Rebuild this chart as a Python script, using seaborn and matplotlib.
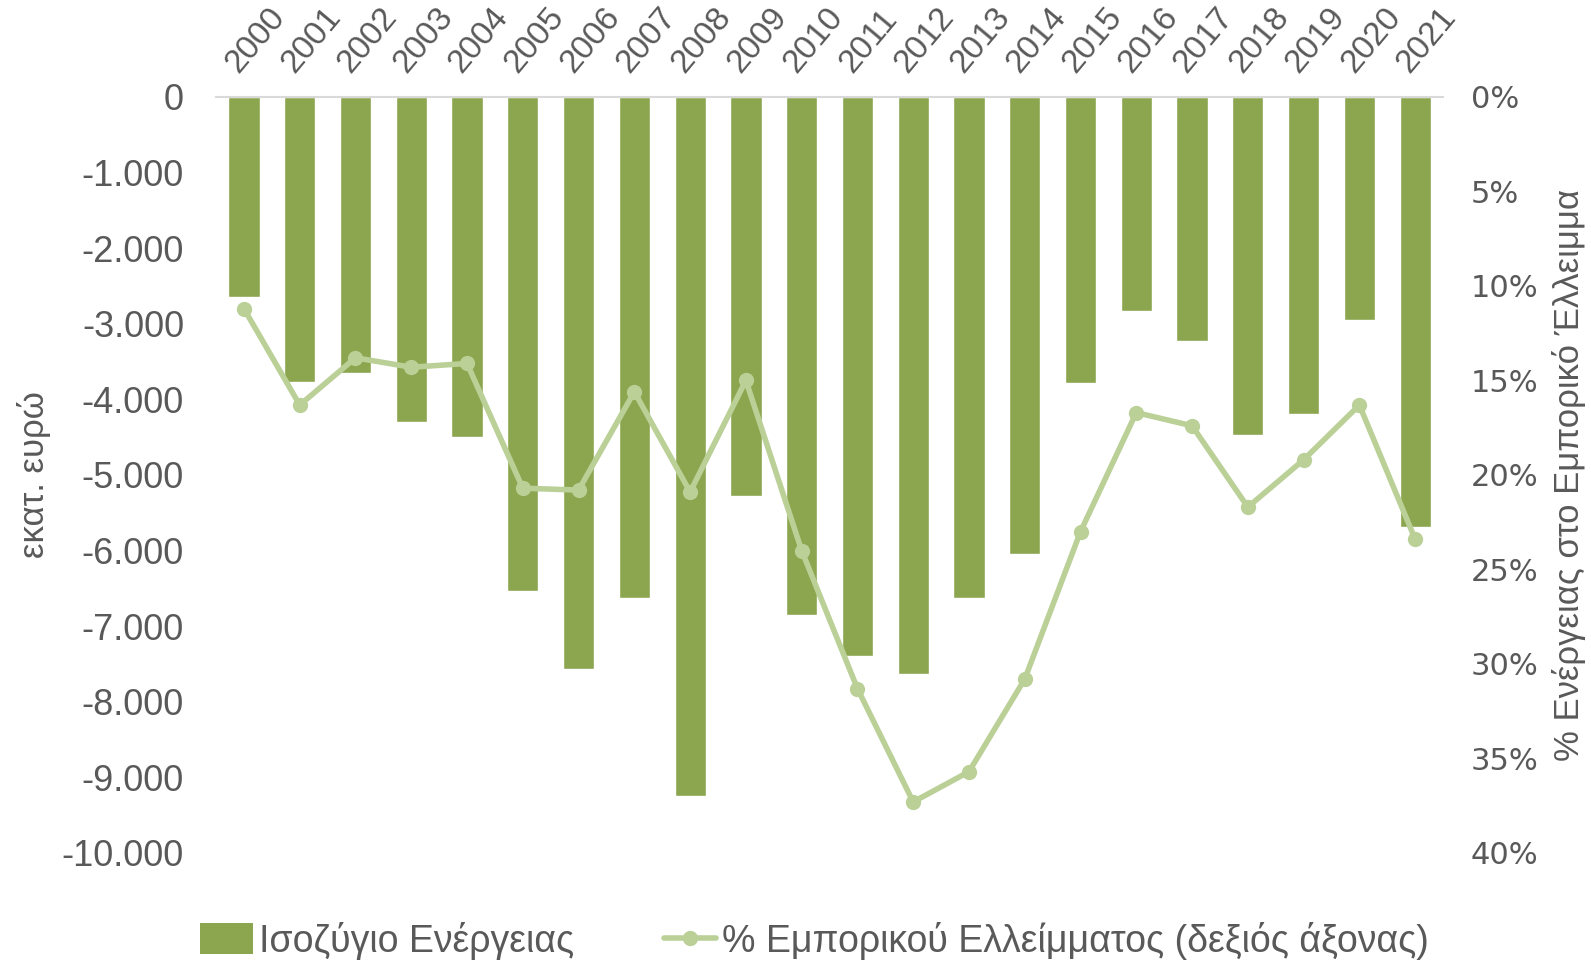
import numpy as np
import pandas as pd
import matplotlib
matplotlib.use("Agg")
import matplotlib.pyplot as plt
import seaborn as sns
from matplotlib.ticker import FuncFormatter, FixedLocator
from matplotlib.patches import Patch
from matplotlib.lines import Line2D

# data
years = [str(y) for y in range(2000, 2022)]
energy_balance = [-2650, -3765, -3645, -4295, -4495, -6535, -7570, -6630, -9240, -5280,
                  -6850, -7395, -7630, -6630, -6040, -3790, -2825, -3230, -4465, -4200,
                  -2955, -5690]
energy_share = [11.2, 16.3, 13.8, 14.3, 14.1, 20.7, 20.8, 15.6, 20.9, 15.0,
                24.0, 31.3, 37.3, 35.7, 30.8, 23.0, 16.7, 17.4, 21.7, 19.2,
                16.3, 23.4]

bar_label = "Ισοζύγιο Ενέργειας"
line_label = "% Εμπορικού Ελλείμματος (δεξιός άξονας)"
left_title = "εκατ. ευρώ"
right_title = "% Ενέργειας στο Εμπορικό Έλλειμμα"

bar_color = "#8ba64f"
line_color = "#bad097"
text_color = "#595959"

sns.set_theme(style="white")
plt.rcParams["font.family"] = ["Liberation Sans", "DejaVu Sans"]

df = pd.DataFrame({"year": years, "balance": energy_balance, "share": energy_share})
df["pos"] = np.arange(len(df))

fig = plt.figure(figsize=(15.91, 9.6), dpi=100)
ax = fig.add_axes([0.1358, 0.1115, 0.7712, 0.7875])

sns.barplot(data=df, x="year", y="balance", color=bar_color, width=0.56,
            saturation=1, ax=ax)
ax.set_ylim(-10000, 0)
ax.set_xlim(-0.5, len(df) - 0.5)
ax.yaxis.set_major_locator(FixedLocator(np.arange(-10000, 1, 1000)))
ax.yaxis.set_major_formatter(FuncFormatter(lambda v, p: f"{v:,.0f}".replace(",", ".")))
ax.tick_params(axis="y", labelsize=26, colors=text_color, length=0, pad=23)
ax.set_ylabel(left_title, fontsize=25, color=text_color, labelpad=8)
ax.set_xlabel("")

# year labels on top, slanted
ax.xaxis.tick_top()
ax.tick_params(axis="x", length=0, pad=13, labelsize=24, colors=text_color)
plt.setp(ax.get_xticklabels(), rotation=50, ha="left", va="bottom",
         rotation_mode="anchor")

for s in ["left", "right", "bottom"]:
    ax.spines[s].set_visible(False)
ax.spines["top"].set_color("#d9d9d9")
ax.spines["top"].set_linewidth(1.5)
ax.grid(False)

ax2 = ax.twinx()
sns.lineplot(data=df, x="pos", y="share", ax=ax2, color=line_color, linewidth=4,
             marker="o", markersize=11, markeredgewidth=0, zorder=5)
ax2.set_ylim(40, 0)
ax2.yaxis.set_major_locator(FixedLocator(np.arange(0, 41, 5)))
ax2.yaxis.set_major_formatter(FuncFormatter(lambda v, p: f"{v:.0f}%"))
ax2.tick_params(axis="y", labelsize=22, colors=text_color, length=0, pad=20)
for lbl in ax2.get_yticklabels():
    lbl.set_family("DejaVu Sans")
ax2.set_ylabel(right_title, fontsize=25, color=text_color, labelpad=10)
ax2.set_xlabel("")
for s in ax2.spines.values():
    s.set_visible(False)
ax2.grid(False)

handles = [Patch(facecolor=bar_color, edgecolor="none"),
           Line2D([], [], color=line_color, linewidth=4, marker="o",
                  markersize=11, markeredgewidth=0)]
fig.legend(handles, [bar_label, line_label], loc="center",
           bbox_to_anchor=(0.512, 0.02), ncol=2, frameon=False, fontsize=27,
           labelcolor=text_color, handlelength=1.4, handleheight=0.9,
           handletextpad=0.15, columnspacing=2.4)

fig.savefig("out.png", dpi=100)
